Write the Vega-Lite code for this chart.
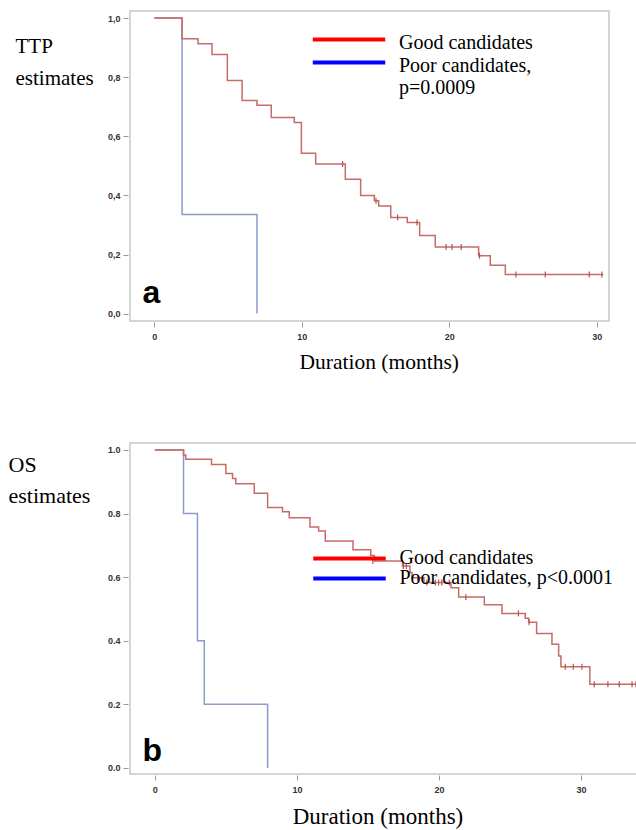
{
  "$schema": "https://vega.github.io/schema/vega-lite/v6.json",
  "background": "white",
  "padding": {"left": 7, "top": 10, "right": 0, "bottom": 0},
  "spacing": 122,
  "bounds": "flush",
  "resolve": {"scale": {"color": "independent", "stroke": "independent"}, "legend": {"color": "independent"}},
  "config": {
    "view": {"stroke": "#c8c8c8", "strokeWidth": 1.5},
    "axis": {"grid": false, "domain": false, "labelFont": "Liberation Sans", "labelFontWeight": "bold", "labelFontSize": 9, "labelColor": "#333333", "tickColor": "#999999", "tickSize": 5, "titleFont": "Liberation Serif", "titleFontWeight": "normal", "titleColor": "#000000"},
    "legend": {"symbolType": "M-50,0H50", "symbolSize": 2.1, "symbolStrokeWidth": 4, "symbolOpacity": 1, "labelFont": "Liberation Serif", "labelFontSize": 20, "labelColor": "#000000", "labelLimit": 400, "labelOffset": 40, "labelBaseline": "alphabetic", "padding": 0}
  },
  "datasets": {
    "ttp": [
      {"g": "Poor candidates", "t": 0, "s": 1.0},
      {"g": "Poor candidates", "t": 1.88, "s": 0.335},
      {"g": "Poor candidates", "t": 6.96, "s": 0.0},
      {"g": "Good candidates", "t": 0, "s": 1.0},
      {"g": "Good candidates", "t": 1.88, "s": 0.930},
      {"g": "Good candidates", "t": 2.96, "s": 0.913},
      {"g": "Good candidates", "t": 3.91, "s": 0.877},
      {"g": "Good candidates", "t": 4.95, "s": 0.789},
      {"g": "Good candidates", "t": 5.95, "s": 0.721},
      {"g": "Good candidates", "t": 6.96, "s": 0.705},
      {"g": "Good candidates", "t": 7.93, "s": 0.664},
      {"g": "Good candidates", "t": 9.49, "s": 0.647},
      {"g": "Good candidates", "t": 9.97, "s": 0.543},
      {"g": "Good candidates", "t": 10.94, "s": 0.506},
      {"g": "Good candidates", "t": 12.95, "s": 0.455},
      {"g": "Good candidates", "t": 13.99, "s": 0.400},
      {"g": "Good candidates", "t": 14.92, "s": 0.382},
      {"g": "Good candidates", "t": 15.21, "s": 0.364},
      {"g": "Good candidates", "t": 16.03, "s": 0.325},
      {"g": "Good candidates", "t": 17.15, "s": 0.308},
      {"g": "Good candidates", "t": 17.99, "s": 0.264},
      {"g": "Good candidates", "t": 19.05, "s": 0.225},
      {"g": "Good candidates", "t": 21.99, "s": 0.196},
      {"g": "Good candidates", "t": 22.78, "s": 0.164},
      {"g": "Good candidates", "t": 23.8, "s": 0.132},
      {"g": "Good candidates", "t": 30.45, "s": 0.132}
    ],
    "ttp_cens": [
      {"t": 12.77, "s": 0.506},
      {"t": 15.03, "s": 0.382},
      {"t": 16.5, "s": 0.325},
      {"t": 17.81, "s": 0.308},
      {"t": 19.78, "s": 0.225},
      {"t": 20.18, "s": 0.225},
      {"t": 20.81, "s": 0.225},
      {"t": 22.05, "s": 0.196},
      {"t": 24.52, "s": 0.132},
      {"t": 26.51, "s": 0.132},
      {"t": 29.49, "s": 0.132},
      {"t": 30.35, "s": 0.132}
    ],
    "os": [
      {"g": "Poor candidates", "t": 0, "s": 1.0},
      {"g": "Poor candidates", "t": 2.02, "s": 0.8},
      {"g": "Poor candidates", "t": 3.0, "s": 0.4},
      {"g": "Poor candidates", "t": 3.48, "s": 0.2},
      {"g": "Poor candidates", "t": 7.94, "s": 0.0},
      {"g": "Good candidates", "t": 0, "s": 1.0},
      {"g": "Good candidates", "t": 2.02, "s": 0.984},
      {"g": "Good candidates", "t": 2.18, "s": 0.971},
      {"g": "Good candidates", "t": 3.99, "s": 0.954},
      {"g": "Good candidates", "t": 5.0, "s": 0.926},
      {"g": "Good candidates", "t": 5.47, "s": 0.910},
      {"g": "Good candidates", "t": 5.70, "s": 0.894},
      {"g": "Good candidates", "t": 7.0, "s": 0.864},
      {"g": "Good candidates", "t": 7.94, "s": 0.819},
      {"g": "Good candidates", "t": 8.99, "s": 0.806},
      {"g": "Good candidates", "t": 9.46, "s": 0.787},
      {"g": "Good candidates", "t": 10.92, "s": 0.758},
      {"g": "Good candidates", "t": 11.53, "s": 0.745},
      {"g": "Good candidates", "t": 12.0, "s": 0.714},
      {"g": "Good candidates", "t": 13.95, "s": 0.686},
      {"g": "Good candidates", "t": 15.2, "s": 0.668},
      {"g": "Good candidates", "t": 15.45, "s": 0.651},
      {"g": "Good candidates", "t": 17.44, "s": 0.635},
      {"g": "Good candidates", "t": 17.96, "s": 0.615},
      {"g": "Good candidates", "t": 18.1, "s": 0.598},
      {"g": "Good candidates", "t": 18.95, "s": 0.583},
      {"g": "Good candidates", "t": 20.85, "s": 0.567},
      {"g": "Good candidates", "t": 21.39, "s": 0.538},
      {"g": "Good candidates", "t": 23.2, "s": 0.513},
      {"g": "Good candidates", "t": 24.44, "s": 0.486},
      {"g": "Good candidates", "t": 26.08, "s": 0.471},
      {"g": "Good candidates", "t": 26.32, "s": 0.458},
      {"g": "Good candidates", "t": 26.88, "s": 0.423},
      {"g": "Good candidates", "t": 27.96, "s": 0.389},
      {"g": "Good candidates", "t": 28.43, "s": 0.352},
      {"g": "Good candidates", "t": 28.59, "s": 0.318},
      {"g": "Good candidates", "t": 30.63, "s": 0.263},
      {"g": "Good candidates", "t": 33.9, "s": 0.263}
    ],
    "os_cens": [
      {"t": 15.35, "s": 0.651},
      {"t": 17.5, "s": 0.635},
      {"t": 17.7, "s": 0.635},
      {"t": 18.15, "s": 0.598},
      {"t": 18.5, "s": 0.598},
      {"t": 19.15, "s": 0.583},
      {"t": 19.75, "s": 0.583},
      {"t": 19.98, "s": 0.583},
      {"t": 20.2, "s": 0.583},
      {"t": 20.73, "s": 0.583},
      {"t": 21.9, "s": 0.538},
      {"t": 25.6, "s": 0.486},
      {"t": 26.35, "s": 0.458},
      {"t": 28.9, "s": 0.318},
      {"t": 29.46, "s": 0.318},
      {"t": 30.07, "s": 0.318},
      {"t": 30.94, "s": 0.263},
      {"t": 31.9, "s": 0.263},
      {"t": 32.7, "s": 0.263},
      {"t": 33.6, "s": 0.263},
      {"t": 33.87, "s": 0.263}
    ]
  },
  "vconcat": [
    {
      "width": 479,
      "height": 310,
      "layer": [
        {
          "data": {"name": "ttp"},
          "mark": {"type": "line", "interpolate": "step-after", "strokeWidth": 1.5, "opacity": 0},
          "encoding": {
            "x": {"field": "t", "type": "quantitative", "scale": {"domain": [-1.65, 30.83], "nice": false, "zero": false},
              "axis": {"values": [0, 10, 20, 30], "offset": 1, "labelPadding": 5, "title": "Duration (months)", "titleFontSize": 21.5, "titleX": 248.7, "titleY": 46, "titleAlign": "center", "titleBaseline": "alphabetic", "titleAnchor": null}},
            "y": {"field": "s", "type": "quantitative", "scale": {"domain": [-0.025, 1.024], "nice": false, "zero": false},
              "axis": {"values": [0, 0.2, 0.4, 0.6, 0.8, 1.0], "offset": 2, "labelPadding": 3, "labelExpr": "replace(format(datum.value, '.1f'), '.', ',')", "title": ["TTP", "estimates"], "titleAngle": 0, "titleAlign": "left", "titleBaseline": "alphabetic", "titleX": -113, "titleY": 41.7, "titleFontSize": 21, "titleLineHeight": 31.6}},
            "color": {"field": "g", "type": "nominal", "scale": {"domain": ["Good candidates", "Poor candidates"], "range": ["#ff0000", "#0000ff"]},
              "legend": {"title": null, "orient": "none", "legendX": 209, "legendY": 18.5, "rowPadding": 0,
                "labelFont": "Liberation Serif", "labelFontSize": 20, "symbolStrokeWidth": 4, "symbolOpacity": 1,
                "labelExpr": "datum.label === 'Poor candidates' ? ['Poor candidates,', 'p=0.0009'] : datum.label",
                "encode": {"labels": {"update": {"dy": {"value": 9}}}}}}
          }
        },
        {
          "data": {"name": "ttp"},
          "mark": {"type": "line", "interpolate": "step-after", "strokeWidth": 1.5},
          "encoding": {
            "x": {"field": "t", "type": "quantitative"},
            "y": {"field": "s", "type": "quantitative"},
            "stroke": {"field": "g", "type": "nominal", "scale": {"domain": ["Good candidates", "Poor candidates"], "range": ["#c66b66", "#8d9bcc"]}, "legend": null}
          }
        },
        {
          "data": {"name": "ttp_cens"},
          "mark": {"type": "point", "shape": "M0,-1V1", "size": 36, "strokeWidth": 1.2, "color": "#b5524d", "filled": false, "opacity": 1},
          "encoding": {
            "x": {"field": "t", "type": "quantitative"},
            "y": {"field": "s", "type": "quantitative"}
          }
        },
        {
          "data": {"values": [{}]},
          "mark": {"type": "text", "text": "a", "font": "Liberation Sans", "fontWeight": "bold", "fontSize": 32, "align": "left", "baseline": "alphabetic", "color": "#000000"},
          "encoding": {"x": {"datum": -0.8}, "y": {"datum": 0.036}}
        }
      ]
    },
    {
      "width": 512,
      "height": 331,
      "layer": [
        {
          "data": {"name": "os"},
          "mark": {"type": "line", "interpolate": "step-after", "strokeWidth": 1.5, "opacity": 0},
          "encoding": {
            "x": {"field": "t", "type": "quantitative", "scale": {"domain": [-1.75, 34.3], "nice": false, "zero": false},
              "axis": {"values": [0, 10, 20, 30], "offset": 1, "labelPadding": 5, "title": "Duration (months)", "titleFontSize": 23, "titleX": 247.5, "titleY": 48, "titleAlign": "center", "titleBaseline": "alphabetic", "titleAnchor": null}},
            "y": {"field": "s", "type": "quantitative", "scale": {"domain": [-0.019, 1.022], "nice": false, "zero": false},
              "axis": {"values": [0, 0.2, 0.4, 0.6, 0.8, 1.0], "format": ".1f", "offset": 2, "labelPadding": 3, "title": ["OS", "estimates"], "titleAngle": 0, "titleAlign": "left", "titleBaseline": "alphabetic", "titleX": -120, "titleY": 28, "titleFontSize": 22, "titleLineHeight": 31.3}},
            "color": {"field": "g", "type": "nominal", "scale": {"domain": ["Good candidates", "Poor candidates"], "range": ["#ff0000", "#0000ff"]},
              "legend": {"title": null, "orient": "none", "legendX": 209.5, "legendY": 105.5, "rowPadding": 0,
                "labelFont": "Liberation Serif", "labelFontSize": 20, "symbolStrokeWidth": 4, "symbolOpacity": 1,
                "labelExpr": "datum.label === 'Poor candidates' ? 'Poor candidates, p<0.0001' : datum.label",
                "encode": {"labels": {"update": {"dy": {"value": 5}}}}}}
          }
        },
        {
          "data": {"name": "os"},
          "mark": {"type": "line", "interpolate": "step-after", "strokeWidth": 1.5},
          "encoding": {
            "x": {"field": "t", "type": "quantitative"},
            "y": {"field": "s", "type": "quantitative"},
            "stroke": {"field": "g", "type": "nominal", "scale": {"domain": ["Good candidates", "Poor candidates"], "range": ["#c66b66", "#8d9bcc"]}, "legend": null}
          }
        },
        {
          "data": {"name": "os_cens"},
          "mark": {"type": "point", "shape": "M0,-1V1", "size": 36, "strokeWidth": 1.2, "color": "#b5524d", "filled": false, "opacity": 1},
          "encoding": {
            "x": {"field": "t", "type": "quantitative"},
            "y": {"field": "s", "type": "quantitative"}
          }
        },
        {
          "data": {"values": [{}]},
          "mark": {"type": "text", "text": "b", "font": "Liberation Sans", "fontWeight": "bold", "fontSize": 32, "align": "left", "baseline": "alphabetic", "color": "#000000"},
          "encoding": {"x": {"datum": -0.87}, "y": {"datum": 0.022}}
        }
      ]
    }
  ]
}
